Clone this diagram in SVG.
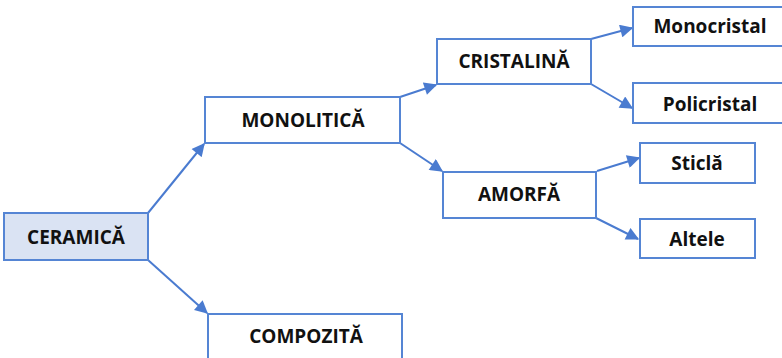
<svg xmlns="http://www.w3.org/2000/svg" width="782" height="358" viewBox="0 0 782 358">
<style>
.box{fill:#ffffff;stroke:#5585d4;stroke-width:2}
.root{fill:#dae3f3;stroke:#5585d4;stroke-width:2}
.lbl{font-family:"Open Sans","Liberation Sans",sans-serif;font-weight:bold;font-size:19px;fill:#111111;text-anchor:middle;dominant-baseline:central}
.conn{stroke:#4a7bd0;stroke-width:2;fill:none;marker-end:url(#ah)}
</style>
<defs>
<marker id="ah" viewBox="0 0 10 10" refX="9" refY="5" markerWidth="7" markerHeight="6.5" orient="auto" markerUnits="strokeWidth">
<path d="M0,0 L10,5 L0,10 z" fill="#4a7bd0"/>
</marker>
</defs>
<rect width="782" height="358" fill="#ffffff"/>
<g id="connectors">
<line class="conn" x1="148" y1="213" x2="204" y2="144"/>
<line class="conn" x1="148" y1="260" x2="207" y2="313"/>
<line class="conn" x1="400" y1="97" x2="436" y2="85"/>
<line class="conn" x1="400" y1="143" x2="442" y2="171"/>
<line class="conn" x1="591" y1="39" x2="632" y2="28"/>
<line class="conn" x1="591" y1="84" x2="632" y2="108"/>
<line class="conn" x1="597" y1="171" x2="639" y2="158"/>
<line class="conn" x1="596" y1="218" x2="638" y2="239"/>
</g>
<g id="ceramica"><rect class="root" x="4" y="213" width="144" height="47"/><text class="lbl" x="76" y="237">CERAMICĂ</text></g>
<g id="monolitica"><rect class="box" x="205" y="97" width="195" height="46"/><text class="lbl" x="303" y="120">MONOLITICĂ</text></g>
<g id="compozita"><rect class="box" x="208" y="314" width="194" height="50"/><text class="lbl" x="306" y="336">COMPOZITĂ</text></g>
<g id="cristalina"><rect class="box" x="437" y="39" width="154" height="45"/><text class="lbl" x="514" y="61">CRISTALINĂ</text></g>
<g id="amorfa"><rect class="box" x="443" y="172" width="153" height="46"/><text class="lbl" x="519" y="194">AMORFĂ</text></g>
<g id="monocristal"><rect class="box" x="633" y="7" width="154" height="39"/><text class="lbl" x="710" y="26">Monocristal</text></g>
<g id="policristal"><rect class="box" x="633" y="83" width="154" height="40"/><text class="lbl" x="710" y="104">Policristal</text></g>
<g id="sticla"><rect class="box" x="640" y="143" width="115" height="40"/><text class="lbl" x="697" y="163">Sticlă</text></g>
<g id="altele"><rect class="box" x="640" y="219" width="115" height="39"/><text class="lbl" x="697" y="239">Altele</text></g>
</svg>
